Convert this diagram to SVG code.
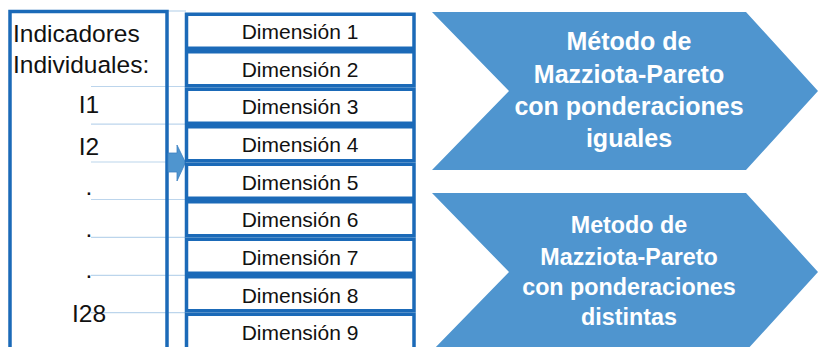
<svg xmlns="http://www.w3.org/2000/svg" width="819" height="347" viewBox="0 0 819 347">
<style>
.box{fill:#fff;stroke:#1b6ab8;stroke-width:3.5}
.thin{stroke:#bcd5ec;stroke-width:1.2;fill:none}
.lt{font-family:"Liberation Sans",Arial,sans-serif;font-size:24.5px;fill:#111}
.dt{font-family:"Liberation Sans",Arial,sans-serif;font-size:21px;fill:#111;text-anchor:middle}
.chev{fill:#4f95cf}
.ct{font-family:"Liberation Sans",Arial,sans-serif;font-weight:bold;fill:#fff;text-anchor:middle}
</style>
<rect width="819" height="347" fill="#fff"/>
<g id="connectors">
<line class="thin" x1="168" y1="11" x2="186" y2="11"/>
<line class="thin" x1="91" y1="86.5" x2="186" y2="86.5"/>
<line class="thin" x1="91" y1="124.2" x2="186" y2="124.2"/>
<line class="thin" x1="91" y1="162" x2="186" y2="162"/>
<line class="thin" x1="91" y1="199.5" x2="186" y2="199.5"/>
<line class="thin" x1="91" y1="237.3" x2="186" y2="237.3"/>
<line class="thin" x1="91" y1="275.3" x2="186" y2="275.3"/>
<line class="thin" x1="91" y1="312.7" x2="186" y2="312.7"/>
</g>
<g id="indicadores">
<rect class="box" x="10" y="11.5" width="157" height="400" fill="none" style="fill:none"/>
<text class="lt" x="13" y="42">Indicadores</text>
<text class="lt" x="13" y="73">Individuales:</text>
<text class="lt" x="89" y="113" text-anchor="middle">I1</text>
<text class="lt" x="89" y="155" text-anchor="middle">I2</text>
<text class="lt" x="89" y="195" text-anchor="middle">.</text>
<text class="lt" x="89" y="237" text-anchor="middle">.</text>
<text class="lt" x="89" y="278" text-anchor="middle">.</text>
<text class="lt" x="89" y="322" text-anchor="middle">I28</text>
</g>
<g id="arrow">
<polygon points="168,153 177,153 177,145 185.5,162.5 177,181 177,172 168,172" fill="#4f95cf" stroke="#3c80c2" stroke-width="0.8"/>
</g>
<g id="dim1"><rect class="box" x="186.5" y="14.25" width="227.5" height="34"/><text class="dt" x="300" y="39">Dimensión 1</text></g>
<g id="dim2"><rect class="box" x="186.5" y="51.75" width="227.5" height="34"/><text class="dt" x="300" y="77">Dimensión 2</text></g>
<g id="dim3"><rect class="box" x="186.5" y="89.25" width="227.5" height="34"/><text class="dt" x="300" y="114">Dimensión 3</text></g>
<g id="dim4"><rect class="box" x="186.5" y="126.75" width="227.5" height="34"/><text class="dt" x="300" y="152">Dimensión 4</text></g>
<g id="dim5"><rect class="box" x="186.5" y="164.25" width="227.5" height="34"/><text class="dt" x="300" y="190">Dimensión 5</text></g>
<g id="dim6"><rect class="box" x="186.5" y="201.75" width="227.5" height="34"/><text class="dt" x="300" y="227">Dimensión 6</text></g>
<g id="dim7"><rect class="box" x="186.5" y="239.25" width="227.5" height="34"/><text class="dt" x="300" y="265">Dimensión 7</text></g>
<g id="dim8"><rect class="box" x="186.5" y="276.75" width="227.5" height="34"/><text class="dt" x="300" y="303">Dimensión 8</text></g>
<g id="dim9"><rect class="box" x="186.5" y="314.25" width="227.5" height="40"/><text class="dt" x="300" y="340">Dimensión 9</text></g>
<g id="metodo-iguales">
<polygon class="chev" points="432,12 746,12 818,91 746,170 432,170 509,91"/>
<text class="ct" x="629" y="50" font-size="25">Método de</text>
<text class="ct" x="629" y="83" font-size="25">Mazziota-Pareto</text>
<text class="ct" x="629" y="115" font-size="25">con ponderaciones</text>
<text class="ct" x="629" y="147" font-size="25">iguales</text>
</g>
<g id="metodo-distintas">
<polygon class="chev" points="432,193 746,193 818,272 746,351 432,351 509,272"/>
<text class="ct" x="629" y="233" font-size="23.3">Metodo de</text>
<text class="ct" x="629" y="265" font-size="23.3">Mazziota-Pareto</text>
<text class="ct" x="629" y="295" font-size="23.3">con ponderaciones</text>
<text class="ct" x="629" y="325" font-size="23.3">distintas</text>
</g>
</svg>
